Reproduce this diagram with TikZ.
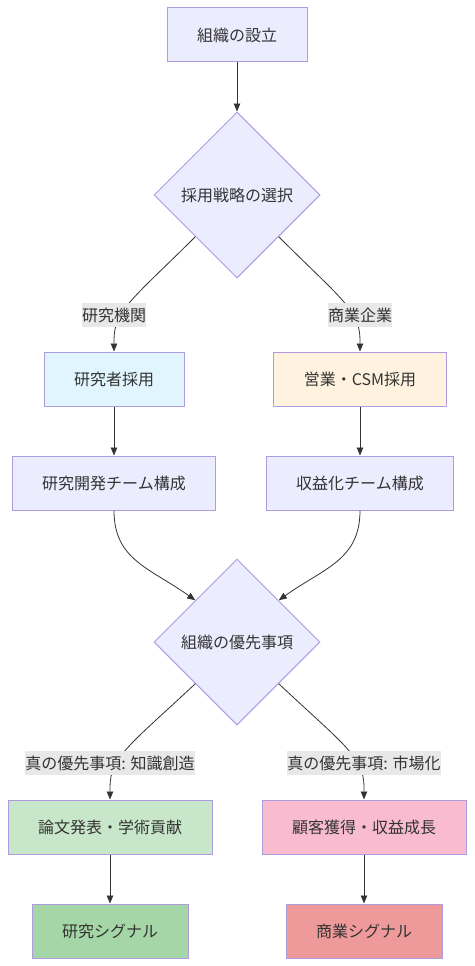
\documentclass[tikz,border=0pt]{standalone}
\usepackage{fontspec}
\newfontfamily\jpfont{Noto Sans CJK JP}
\usetikzlibrary{shapes.geometric,arrows.meta}

\definecolor{txtgray}{HTML}{333333}
\definecolor{boxline}{HTML}{AE9CE0}
\definecolor{mainbg}{HTML}{ECECFF}
\definecolor{labelbg}{HTML}{E8E8E8}
\definecolor{researchbg}{HTML}{E1F5FE}
\definecolor{salesbg}{HTML}{FFF3E0}
\definecolor{paperbg}{HTML}{C8E6C9}
\definecolor{revenuebg}{HTML}{F8BBD0}
\definecolor{rsignalbg}{HTML}{A5D6A7}
\definecolor{csignalbg}{HTML}{EF9A9A}

\tikzset{
  jptext/.style={text=txtgray, font=\jpfont\fontsize{16}{19}\selectfont},
  box/.style={jptext, draw=boxline, line width=1pt, fill=#1,
    minimum height=54pt, inner xsep=30pt, inner ysep=0pt},
  box/.default=mainbg,
  decide/.style={jptext, diamond, draw=boxline, line width=1pt, fill=mainbg,
    minimum width=166pt, minimum height=166pt, inner sep=0pt},
  elabel/.style={jptext, fill=labelbg, inner xsep=0pt, inner ysep=0pt,
    minimum height=24pt},
  flow/.style={draw=txtgray, line width=0.8pt, -{Triangle[length=8pt,width=6.5pt]}},
}

\begin{document}
\begin{tikzpicture}[x=1pt,y=-1pt]
\useasboundingbox (0,0) rectangle (474,966);

%% top
\node[box] (org) at (237,35) {組織の設立};
\node[decide] (hire) at (237,195) {採用戦略の選択};

%% hiring
\node[box=researchbg] (researcher) at (114,379) {研究者採用};
\node[box=salesbg] (sales) at (360,379) {営業・CSM採用};
\node[box] (rdteam) at (114,483) {研究開発チーム構成};
\node[box] (revteam) at (360,483) {収益化チーム構成};

%% priorities
\node[decide] (prio) at (237,642) {組織の優先事項};
\node[box=paperbg] (paper) at (110,827) {論文発表・学術貢献};
\node[box=revenuebg] (revenue) at (364,827) {顧客獲得・収益成長};
\node[box=rsignalbg] (rsignal) at (110,931) {研究シグナル};
\node[box=csignalbg] (csignal) at (364,931) {商業シグナル};

\draw[flow] (org) -- (hire);

\draw[flow] (hire.south west) .. controls (135,297) and (114,310) .. (114,340) -- (researcher.north);
\draw[flow] (hire.south east) .. controls (339,297) and (360,310) .. (360,340) -- (sales.north);

\draw[flow] (researcher) -- (rdteam);
\draw[flow] (sales) -- (revteam);

\draw[flow] (rdteam.south) .. controls (114,560) and (150,568) .. (prio.north west);
\draw[flow] (revteam.south) .. controls (360,560) and (324,568) .. (prio.north east);

\draw[flow] (prio.south west) .. controls (131,744) and (110,757) .. (110,787) -- (paper.north);
\draw[flow] (prio.south east) .. controls (343,744) and (364,757) .. (364,787) -- (revenue.north);

\draw[flow] (paper) -- (rsignal);
\draw[flow] (revenue) -- (csignal);

%% edge labels
\node[elabel] (lresearch) at (114,315) {研究機関};
\node[elabel] (lcommerce) at (360,315) {商業企業};
\node[elabel] (lknowledge) at (110,763) {真の優先事項: 知識創造};
\node[elabel] (lmarket) at (364,763) {真の優先事項: 市場化};
\end{tikzpicture}
\end{document}
